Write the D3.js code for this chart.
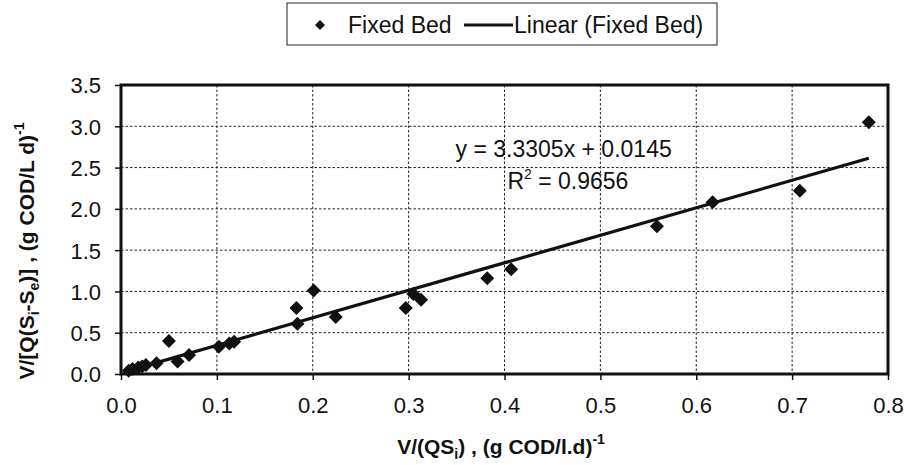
<!DOCTYPE html>
<html>
<head>
<meta charset="utf-8">
<script src="https://cdn.jsdelivr.net/npm/d3@7"></script>
<style>
  body { margin: 0; background: #fff; }
  svg { display: block; font-family: "Liberation Sans", Arial, sans-serif; }
  .grid line { stroke: #222; stroke-width: 1; stroke-dasharray: 2.5,2; }
  .tick text { font-size: 22px; fill: #111; }
</style>
</head>
<body>
<div id="chart"></div>
<script>
// V/(QSi) and V/[Q(Si-Se)]
const xValues = [0.008, 0.012, 0.018, 0.022, 0.026, 0.037, 0.050, 0.059, 0.071, 0.102, 0.113, 0.118,
                 0.183, 0.184, 0.201, 0.224, 0.297, 0.305, 0.313, 0.382, 0.407, 0.559, 0.617, 0.708, 0.780]
const yValues = [0.04, 0.06, 0.08, 0.09, 0.11, 0.13, 0.40, 0.15, 0.23, 0.33, 0.37, 0.39,
                 0.80, 0.61, 1.01, 0.69, 0.80, 0.97, 0.90, 1.16, 1.27, 1.79, 2.08, 2.22, 3.05]
const xTicks = [0, 0.1, 0.2, 0.3, 0.4, 0.5, 0.6, 0.7, 0.8]
const yTicks = [0, 0.5, 1.0, 1.5, 2.0, 2.5, 3.0, 3.5]
const slope = 3.3305
const intercept = 0.0145
const rSquared = 0.9656

const W = 907, H = 465
const margin = {top: 85, right: 19, bottom: 91, left: 121}
const width = W - margin.left - margin.right,
      height = H - margin.top - margin.bottom

const svg = d3.select("#chart").append("svg")
    .attr("width", W)
    .attr("height", H)

const g = svg.append("g")
    .attr("transform", "translate(" + margin.left + "," + margin.top + ")")

const x = d3.scaleLinear().domain([0, 0.8]).range([0, width])
const y = d3.scaleLinear().domain([0, 3.5]).range([height, 0])

// dotted grid
g.append("g")
    .attr("class", "grid")
    .selectAll("line.gx")
    .data(xTicks.slice(1, -1))
    .enter().append("line")
    .attr("x1", d => x(d)).attr("x2", d => x(d))
    .attr("y1", 0).attr("y2", height)
g.append("g")
    .attr("class", "grid")
    .selectAll("line.gy")
    .data(yTicks.slice(1, -1))
    .enter().append("line")
    .attr("x1", 0).attr("x2", width)
    .attr("y1", d => y(d)).attr("y2", d => y(d))

// axes
const xAxis = g.append("g")
    .attr("transform", "translate(0," + height + ")")
    .call(d3.axisBottom(x)
        .tickValues(xTicks)
        .tickFormat(d3.format(".1f"))
        .tickSizeInner(6)
        .tickSizeOuter(0)
        .tickPadding(17))
const yAxis = g.append("g")
    .call(d3.axisLeft(y)
        .tickValues(yTicks)
        .tickFormat(d3.format(".1f"))
        .tickSizeInner(6)
        .tickSizeOuter(0)
        .tickPadding(14))
xAxis.select(".domain").remove()
yAxis.select(".domain").remove()
xAxis.selectAll(".tick line").attr("stroke", "#111").attr("stroke-width", 1.5)
yAxis.selectAll(".tick line").attr("stroke", "#111").attr("stroke-width", 1.5)
yAxis.selectAll(".tick text").attr("dy", "0.36em")

// plot frame
g.append("rect")
    .attr("x", 0).attr("y", 0)
    .attr("width", width).attr("height", height)
    .attr("fill", "none")
    .attr("stroke", "#111")
    .attr("stroke-width", 3)

// trendline over the data range
const xr = d3.extent(xValues)
g.append("path")
    .datum(xr)
    .attr("fill", "none")
    .attr("stroke", "#111")
    .attr("stroke-width", 3.2)
    .attr("d", d3.line()
        .x(d => x(d))
        .y(d => y(slope * d + intercept)))

// diamonds
const diamond = r => "M0," + (-r) + "L" + r + ",0L0," + r + "L" + (-r) + ",0Z"
g.selectAll(".pt")
    .data(xValues.map((v, i) => [v, yValues[i]]))
    .enter().append("path")
    .attr("class", "pt")
    .attr("d", diamond(7))
    .attr("fill", "#111")
    .attr("transform", d => "translate(" + x(d[0]) + "," + y(d[1]) + ")")

// equation
const eq = g.append("g").attr("font-size", 23).attr("fill", "#111")
eq.append("text")
    .attr("x", x(0.349)).attr("y", y(2.63))
    .text("y = " + slope + "x + " + intercept)
const r2 = eq.append("text")
    .attr("x", x(0.403)).attr("y", y(2.24))
r2.append("tspan").text("R")
r2.append("tspan").attr("font-size", 14).attr("dy", -10).text("2")
r2.append("tspan").attr("dy", 10).text(" = " + rSquared)

// axis titles
const xt = svg.append("text")
    .attr("x", 501).attr("y", 454)
    .attr("text-anchor", "middle")
    .attr("font-weight", "bold")
    .attr("font-size", 21)
    .attr("fill", "#111")
xt.append("tspan").text("V/(QS")
xt.append("tspan").attr("font-size", 14).attr("dy", 5).text("i")
xt.append("tspan").attr("dy", -5).text(") , (g COD/l.d)")
xt.append("tspan").attr("font-size", 14).attr("dy", -10).text("-1")

const yt = svg.append("text")
    .attr("transform", "translate(34,251) rotate(-90)")
    .attr("text-anchor", "middle")
    .attr("font-weight", "bold")
    .attr("font-size", 21)
    .attr("fill", "#111")
yt.append("tspan").text("V/[Q(S")
yt.append("tspan").attr("font-size", 14).attr("dy", 5).text("i")
yt.append("tspan").attr("dy", -5).text("-S")
yt.append("tspan").attr("font-size", 14).attr("dy", 5).text("e")
yt.append("tspan").attr("dy", -5).text(")] , (g COD/L d)")
yt.append("tspan").attr("font-size", 14).attr("dy", -10).text("-1")

// legend
const lg = svg.append("g").attr("transform", "translate(287,3)")
lg.append("rect")
    .attr("width", 430).attr("height", 42)
    .attr("fill", "#fff")
    .attr("stroke", "#444")
    .attr("stroke-width", 1.2)
lg.append("path")
    .attr("d", diamond(5))
    .attr("fill", "#111")
    .attr("transform", "translate(33,22)")
lg.append("text")
    .attr("x", 61).attr("y", 30)
    .attr("font-size", 23).attr("fill", "#111")
    .text("Fixed Bed")
lg.append("line")
    .attr("x1", 177).attr("x2", 226)
    .attr("y1", 22).attr("y2", 22)
    .attr("stroke", "#111").attr("stroke-width", 3)
lg.append("text")
    .attr("x", 227).attr("y", 30)
    .attr("font-size", 23).attr("fill", "#111")
    .text("Linear (Fixed Bed)")
</script>
</body>
</html>
